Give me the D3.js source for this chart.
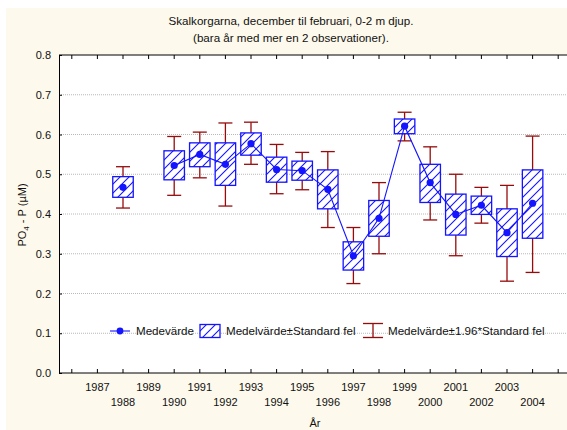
<!DOCTYPE html>
<html>
<head>
<meta charset="utf-8">
<title>Skalkorgarna PO4</title>
<script src="https://d3js.org/d3.v7.min.js"></script>
<style>
  body { margin: 0; background: #ffffff; }
  text { font-family: "Liberation Sans", Arial, sans-serif; font-size: 11px; fill: #111; }
  .big { font-size: 11.6px; }
</style>
</head>
<body>
<svg width="567" height="430"></svg>
<script>
// category axis (every year, labels only 1987-2004)
var allYears = d3.range(1986, 2006);
var labelYears = d3.range(1987, 2005);

// yearly statistics
var years  = [1988, 1990, 1991, 1992, 1993, 1994, 1995, 1996, 1997, 1998, 1999, 2000, 2001, 2002, 2003, 2004];
var mean   = [0.467, 0.522, 0.550, 0.525, 0.577, 0.512, 0.509, 0.462, 0.295, 0.389, 0.621, 0.479, 0.399, 0.422, 0.353, 0.427];
var seHigh = [0.494, 0.559, 0.579, 0.579, 0.604, 0.543, 0.533, 0.511, 0.330, 0.434, 0.639, 0.525, 0.450, 0.445, 0.413, 0.511];
var seLow  = [0.442, 0.486, 0.519, 0.472, 0.548, 0.480, 0.485, 0.413, 0.259, 0.344, 0.602, 0.429, 0.347, 0.399, 0.293, 0.339];
var ciHigh = [0.519, 0.595, 0.606, 0.629, 0.631, 0.575, 0.555, 0.557, 0.366, 0.479, 0.656, 0.569, 0.500, 0.467, 0.472, 0.596];
var ciLow  = [0.415, 0.447, 0.491, 0.420, 0.525, 0.451, 0.461, 0.366, 0.225, 0.300, 0.584, 0.385, 0.295, 0.377, 0.231, 0.253];

var yTicks = [0.0, 0.1, 0.2, 0.3, 0.4, 0.5, 0.6, 0.7, 0.8];

var blue = "#1414ff", red = "#960c0c";

var svg = d3.select("svg");
var pl = 59, pr = 571, pt = 55, pb = 373;

// cream background with thin white border
svg.append("rect").attr("x", 6).attr("y", 8).attr("width", 561).attr("height", 422).attr("fill", "#fdf9ec");
svg.append("rect").attr("x", pl).attr("y", pt).attr("width", pr - pl).attr("height", pb - pt).attr("fill", "#fff");

var x = d3.scaleBand().domain(allYears).range([pl, pr]).padding(0);
var bw = x.bandwidth();
var cx = function(yr) { return x(yr) + bw / 2; };
var y = d3.scaleLinear().domain([0, 0.8]).range([pb, pt]);

// hatch pattern
var defs = svg.append("defs");
var pat = defs.append("pattern").attr("id", "hatch").attr("patternUnits", "userSpaceOnUse")
  .attr("width", 9).attr("height", 9);
pat.append("rect").attr("width", 9).attr("height", 9).attr("fill", "#fff");
pat.append("path").attr("d", "M0,9 L9,0 M-2,2 L2,-2 M7,11 L11,7")
  .attr("stroke", blue).attr("stroke-width", 1.1);

// gridlines
svg.append("g").selectAll("line").data(yTicks.filter(function(d) { return d > 0 && d < 0.8; }))
  .enter().append("line")
  .attr("x1", pl).attr("x2", pr)
  .attr("y1", function(d) { return y(d); }).attr("y2", function(d) { return y(d); })
  .attr("stroke", "#b8b8b8").attr("stroke-dasharray", "1,1");

// axes
svg.append("g").attr("transform", "translate(" + pl + ",0)")
  .call(d3.axisLeft(y).tickValues(yTicks).tickFormat(d3.format(".1f")).tickSize(-3).tickPadding(8))
  .call(function(g) {
    g.select(".domain").attr("stroke", "#000");
    g.selectAll("text").style("font-size", "11px").style("font-family", "Liberation Sans, Arial, sans-serif");
  });

svg.append("g").attr("transform", "translate(0," + pb + ")")
  .call(d3.axisBottom(x).tickSize(-4).tickFormat(""))
  .call(function(g) { g.select(".domain").attr("d", "M" + pl + ",0H" + pr); });

svg.append("g").attr("transform", "translate(0," + pt + ")")
  .call(d3.axisTop(x).tickSize(-4).tickFormat(""))
  .call(function(g) { g.select(".domain").attr("d", "M" + pl + ",0H" + pr); });

// staggered year labels
svg.append("g").selectAll("text").data(labelYears).enter().append("text")
  .attr("x", function(d) { return cx(d); })
  .attr("y", function(d) { return d % 2 ? 391 : 406; })
  .attr("text-anchor", "middle")
  .text(function(d) { return d; });

// axis titles
svg.append("text").attr("x", 315).attr("y", 427).attr("text-anchor", "middle").text("År");

var yl = svg.append("text").attr("transform", "translate(26,215) rotate(-90)").attr("text-anchor", "middle");
yl.append("tspan").text("PO");
yl.append("tspan").attr("dy", 3).style("font-size", "8px").text("4");
yl.append("tspan").attr("dy", -3).text(" - P (µM)");

// title
svg.append("text").attr("class", "big").attr("x", 291).attr("y", 25).attr("text-anchor", "middle")
  .text("Skalkorgarna, december til februari, 0-2 m djup.");
svg.append("text").attr("class", "big").attr("x", 291).attr("y", 42).attr("text-anchor", "middle")
  .text("(bara år med mer en 2 observationer).");

var rows = years.map(function(yr, i) {
  return { year: yr, mean: mean[i], seHigh: seHigh[i], seLow: seLow[i], ciHigh: ciHigh[i], ciLow: ciLow[i] };
});

// whiskers
var wk = svg.append("g").attr("stroke", red).attr("stroke-width", 1.3);
rows.forEach(function(d) {
  var c = cx(d.year);
  wk.append("line").attr("x1", c).attr("x2", c).attr("y1", y(d.ciHigh)).attr("y2", y(d.ciLow));
  wk.append("line").attr("x1", c - 7).attr("x2", c + 7).attr("y1", y(d.ciHigh)).attr("y2", y(d.ciHigh));
  wk.append("line").attr("x1", c - 7).attr("x2", c + 7).attr("y1", y(d.ciLow)).attr("y2", y(d.ciLow));
});

// boxes
svg.append("g").selectAll("rect").data(rows).enter().append("rect")
  .attr("x", function(d) { return cx(d.year) - bw * 0.4; })
  .attr("width", bw * 0.8)
  .attr("y", function(d) { return y(d.seHigh); })
  .attr("height", function(d) { return y(d.seLow) - y(d.seHigh); })
  .attr("fill", "url(#hatch)").attr("stroke", blue).attr("stroke-width", 1.3);

// mean line with gap where a year is missing
var lineData = d3.range(years[0], years[years.length - 1] + 1).map(function(yr) {
  var i = years.indexOf(yr);
  return { year: yr, mean: i < 0 ? null : mean[i] };
});
svg.append("path").datum(lineData)
  .attr("d", d3.line().defined(function(d) { return d.mean != null; })
    .x(function(d) { return cx(d.year); }).y(function(d) { return y(d.mean); }))
  .attr("fill", "none").attr("stroke", blue).attr("stroke-width", 1.1);

svg.append("g").selectAll("circle").data(rows).enter().append("circle")
  .attr("cx", function(d) { return cx(d.year); })
  .attr("cy", function(d) { return y(d.mean); })
  .attr("r", 3.6).attr("fill", blue);

// legend
var lg = svg.append("g");
var ly = 331;
lg.append("line").attr("x1", 110).attr("x2", 130).attr("y1", ly).attr("y2", ly).attr("stroke", blue).attr("stroke-width", 1.1);
lg.append("circle").attr("cx", 120).attr("cy", ly).attr("r", 3.4).attr("fill", blue);
lg.append("text").attr("class", "big").attr("x", 136).attr("y", ly + 4).text("Medevärde");
lg.append("rect").attr("x", 200).attr("y", ly - 6.5).attr("width", 20).attr("height", 13)
  .attr("fill", "url(#hatch)").attr("stroke", blue).attr("stroke-width", 1.3);
lg.append("text").attr("class", "big").attr("x", 226).attr("y", ly + 4).text("Medelvärde±Standard fel");
lg.append("line").attr("x1", 373).attr("x2", 373).attr("y1", ly - 7.5).attr("y2", ly + 6.5).attr("stroke", red).attr("stroke-width", 1.3);
lg.append("line").attr("x1", 363).attr("x2", 383).attr("y1", ly - 7.5).attr("y2", ly - 7.5).attr("stroke", red).attr("stroke-width", 1.3);
lg.append("line").attr("x1", 363).attr("x2", 383).attr("y1", ly + 6.5).attr("y2", ly + 6.5).attr("stroke", red).attr("stroke-width", 1.3);
lg.append("text").attr("class", "big").attr("x", 388).attr("y", ly + 4).text("Medelvärde±1.96*Standard fel");
</script>
</body>
</html>
